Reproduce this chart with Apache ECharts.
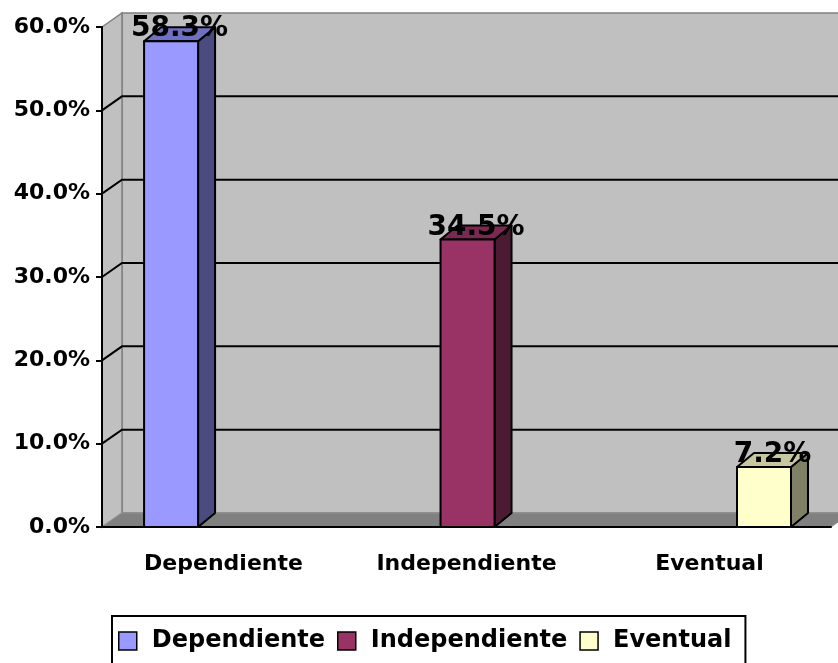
<!DOCTYPE html>
<html>
<head>
<meta charset="utf-8">
<script src="https://cdn.jsdelivr.net/npm/echarts@6/dist/echarts.min.js"></script>
<style>
html,body{margin:0;padding:0;background:#fff;}
#chart{width:838px;height:663px;}
</style>
</head>
<body>
<div id="chart"></div>
<script>
// datos
var categorias = ['Dependiente', 'Independiente', 'Eventual'];
var valores = [58.3, 34.5, 7.2];
var yTicks = [0, 10, 20, 30, 40, 50, 60];
var lineasGuia = [10, 20, 30, 40, 50];

var coloresFrente = ['#9999FF', '#993366', '#FFFFCC'];
var coloresLado = ['#4B4B80', '#4D1A33', '#808066'];
var coloresTope = ['#7070C0', '#7A2952', '#C8C8A0'];

var FONT = 'DejaVu Sans';
var PX = 20, PY = -14;   // profundidad pared
var BW = 54, BX = 17, BY = -14; // barra

var chart = echarts.init(document.getElementById('chart'));

var paredes = function(params, api){
    var cs = params.coordSys;
    var y0 = api.coord([0, 0])[1];
    var yTop = api.coord([0, yTicks[yTicks.length-1]])[1];
    var xl = cs.x, xr = cs.x + cs.width;
    return {
        type:'group',
        children:[
            {type:'polygon', shape:{points:[[xl+PX,yTop+PY],[xr+PX,yTop+PY],[xr+PX,y0+PY],[xl+PX,y0+PY]]},
             style:{fill:'#C0C0C0', stroke:'#808080', lineWidth:1.5}},
            {type:'polygon', shape:{points:[[xl,yTop],[xl+PX,yTop+PY],[xl+PX,y0+PY],[xl,y0]]},
             style:{fill:'#C0C0C0', stroke:'#808080', lineWidth:1.5}},
            {type:'polygon', shape:{points:[[xl,y0],[xl+PX,y0+PY],[xr+PX,y0+PY],[xr,y0]]},
             style:{fill:'#808080', stroke:'#909090', lineWidth:1}}
        ]
    };
};

var guias = function(params, api){
    var cs = params.coordSys;
    var y = api.coord([0, api.value(0)])[1];
    var xl = cs.x, xr = cs.x + cs.width;
    return {
        type:'polyline',
        shape:{points:[[xl,y],[xl+PX,y+PY],[xr+PX,y+PY]]},
        style:{stroke:'#000', lineWidth:2, fill:null}
    };
};

var barra = function(i){
    return function(params, api){
        var base = api.coord([api.value(0), 0]);
        var top = api.coord([api.value(0), api.value(1)]);
        var x0 = base[0] - BW/2, x1 = base[0] + BW/2;
        var y0 = base[1], y1 = top[1];
        var st = {stroke:'#000', lineWidth:2, lineJoin:'round'};
        return {
            type:'group',
            children:[
                {type:'polygon', shape:{points:[[x1,y1],[x1+BX,y1+BY],[x1+BX,y0+BY],[x1,y0]]},
                 style:Object.assign({fill:coloresLado[i]}, st)},
                {type:'polygon', shape:{points:[[x0,y1],[x0+BX,y1+BY],[x1+BX,y1+BY],[x1,y1]]},
                 style:Object.assign({fill:coloresTope[i]}, st)},
                {type:'rect', shape:{x:x0, y:y1, width:BW, height:y0-y1},
                 style:Object.assign({fill:coloresFrente[i]}, st)},
                {type:'text', x:base[0]+BX/2, y:y1-12, z2:10,
                 style:{text:api.value(1).toFixed(1)+'%', fill:'#000', font:'bold 28px "'+FONT+'"',
                        align:'center', verticalAlign:'middle'}}
            ]
        };
    };
};

var series = [
    {type:'custom', name:'_paredes', renderItem:paredes, data:[[0]], silent:true, z:1},
    {type:'custom', name:'_guias', renderItem:guias, data:lineasGuia.map(function(v){return [v];}), silent:true, z:2}
];
categorias.forEach(function(c, i){
    series.push({
        type:'custom', name:c, xAxisIndex:1, z:3,
        itemStyle:{color:coloresFrente[i]},
        renderItem:barra(i),
        encode:{x:0, y:1},
        data:[[i, valores[i]]]
    });
});

chart.setOption({
    animation:false,
    backgroundColor:'#fff',
    grid:{left:102, right:7, top:27, bottom:136},
    legend:{
        data:categorias,
        left:112, top:616,
        padding:[13, 14, 25, 6],
        borderColor:'#000', borderWidth:2,
        itemWidth:18, itemHeight:18, itemGap:12,
        icon:'rect',
        itemStyle:{borderColor:'#000', borderWidth:1.5},
        textStyle:{fontFamily:FONT, fontWeight:'bold', fontSize:24, color:'#000', padding:[0,0,0,10]}
    },
    xAxis:[{
        type:'category',
        data:categorias,
        axisLine:{lineStyle:{color:'#000', width:2}},
        axisTick:{length:6, lineStyle:{color:'#000', width:2}},
        axisLabel:{fontFamily:FONT, fontWeight:'bold', fontSize:22, color:'#000', margin:26},
        z:5
    },{
        type:'value', min:-0.233, max:2.226, show:false
    }],
    yAxis:{
        type:'value', min:0, max:60, interval:10,
        axisLine:{show:true, onZero:false, lineStyle:{color:'#000', width:2}},
        axisTick:{show:true, length:6, lineStyle:{color:'#000', width:2}},
        axisLabel:{fontFamily:FONT, fontWeight:'bold', fontSize:22, color:'#000', margin:12,
            formatter:function(v){return v.toFixed(1)+'%';}},
        splitLine:{show:false},
        z:5
    },
    series:series
});
</script>
</body>
</html>
